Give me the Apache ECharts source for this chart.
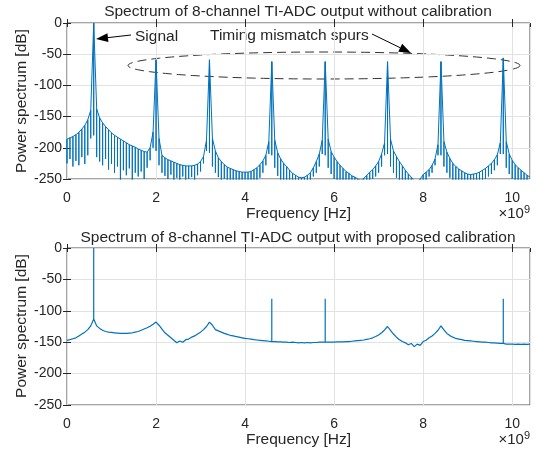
<!DOCTYPE html>
<html>
<head>
<meta charset="utf-8">
<script src="https://cdn.jsdelivr.net/npm/echarts@6/dist/echarts.min.js"></script>
<style>
  html, body { margin: 0; background: #fff; }
  #chart { width: 537px; height: 454px; }
</style>
</head>
<body>
<div id="chart"></div>
<script>
// frequency grid of the spectra, in GHz (axis is shown as x10^9 Hz)
const binStep = 1 / 15;
const freqMax = 10.4;
const xTicks = [0, 2, 4, 6, 8, 10];
const yTicks = [0, -50, -100, -150, -200, -250];

// without calibration: top of each leakage line, one per bin
const rawPeakDb = [
  -186, -184, -182, -179, -175, -170, -164, -155, -140, 0,
  -138, -152, -160, -166, -171, -176, -180, -183, -186, -189,
  -192, -195, -197, -199, -202, -204, -206, -207, -200, -175,
  -59, -185, -212, -216, -219, -221, -223, -225, -227, -228,
  -229, -229, -229, -228, -226, -222, -214, -188, -59, -185,
  -205, -216, -222, -227, -231, -233, -235, -237, -238, -239,
  -239, -239, -238, -235, -232, -227, -221, -212, -190, -62,
  -188, -208, -218, -225, -230, -236, -241, -244, -247, -248,
  -247, -244, -240, -232, -222, -210, -188, -62, -186, -206,
  -215, -222, -228, -233, -238, -241, -245, -247, -250, -252,
  -249, -244, -239, -235, -229, -222, -210, -192, -62, -186,
  -205, -214, -222, -229, -236, -242, -247, -253, -255, -250,
  -243, -239, -235, -228, -218, -195, -62, -190, -207, -217,
  -225, -230, -234, -237, -240, -242, -243, -242, -241, -239,
  -236, -233, -229, -225, -219, -211, -192, -56, -190, -210,
  -220, -227, -232, -236, -240, -244, -247
];
// without calibration: how far each leakage line drops
const rawDipDb = [
  -225, -218, -230, -221, -228, -215, -226, -212, -185, -180,
  -215, -222, -228, -218, -235, -226, -240, -230, -252, -236,
  -244, -233, -255, -240, -246, -238, -250, -232, -220, -200,
  -205, -228, -240, -245, -250, -243, -255, -248, -252, -246,
  -258, -250, -247, -252, -244, -238, -225, -205, -208, -230,
  -240, -247, -255, -250, -258, -252, -260, -255, -262, -258,
  -260, -255, -262, -252, -256, -248, -240, -228, -210, -212,
  -232, -245, -252, -258, -255, -262, -260, -265, -262, -266,
  -260, -258, -252, -246, -240, -230, -210, -212, -232, -242,
  -250, -255, -258, -262, -260, -265, -262, -268, -265, -262,
  -260, -258, -255, -250, -246, -240, -230, -212, -210, -230,
  -240, -248, -254, -258, -262, -265, -268, -266, -262, -258,
  -255, -252, -246, -240, -228, -212, -212, -230, -240, -248,
  -252, -256, -258, -260, -262, -262, -262, -260, -258, -256,
  -254, -250, -246, -242, -236, -228, -210, -210, -232, -242,
  -250, -255, -258, -260, -262, -262
];

// with proposed calibration: noise floor per bin
const calDb = [
  -147, -146, -144.5, -143, -140, -137, -134, -130, -124, -113,
  -124, -128, -131, -133, -134, -134.5, -135, -135.5, -136, -136,
  -136, -135.5, -135, -134, -133, -131, -129, -127, -124.5, -121.5,
  -118, -123, -129, -135, -139, -143, -147, -151, -148, -150,
  -146, -145, -142, -140, -137, -134, -130, -125, -118, -123,
  -130, -132, -134, -136, -137.5, -139, -140, -141, -142, -143,
  -144, -144.5, -145, -146, -146.5, -147, -147.5, -148, -148.5, -149,
  -149, -149.5, -149.5, -150, -150, -150.5, -150, -150.5, -151, -150.5,
  -151, -150.5, -151, -150.5, -150.5, -150, -150, -150, -150, -150,
  -150, -149.5, -149.5, -149.5, -149, -149, -148.5, -148, -147.5, -147,
  -146.5, -145.5, -144.5, -143, -141, -138.5, -135, -130.5, -125, -131,
  -137, -142, -146, -149, -151, -154, -152, -157, -153, -155,
  -149, -147, -143, -140, -136, -131, -124, -130.5, -136, -139.5,
  -142, -144, -145, -146, -147, -147.5, -148, -148.5, -149, -149.5,
  -150, -150, -150.5, -151, -151, -151.5, -152, -152, -153, -153,
  -153, -153.5, -153, -153.5, -153, -153.5, -153
];
// with calibration: signal and remaining spurs
const calSpikeFreq = [0.6, 4.6, 5.8, 9.8];
const calSpikeDb = [0, -81, -81, -81];

// each bin is drawn as a stem: down to its dip and back up
const rawData = [];
rawPeakDb.forEach((v, i) => {
  const f = i * binStep;
  rawData.push([f, v]);
  if (i < rawDipDb.length) rawData.push([f, rawDipDb[i]], [f, v]);
});

const calData = [];
calDb.forEach((v, i) => {
  const f = i * binStep;
  calData.push([f, v]);
  const k = calSpikeFreq.findIndex(t => Math.abs(t - f) < 1e-6);
  if (k >= 0) calData.push([f, calSpikeDb[k]], [f, v]);
});

const FONT = '"Liberation Sans", Arial, Helvetica, sans-serif';
const INK = '#262626';
const BLUE = '#0072BD';

const grids = [
  { left: 67, right: 7, top: 23, height: 156 },
  { left: 67, right: 7, top: 248, height: 157 }
];

function xAxes(gi) {
  const base = {
    type: 'value', gridIndex: gi, min: 0, max: freqMax, interval: xTicks[1] - xTicks[0],
    axisLine: { show: false },
    axisTick: { show: true, inside: true, length: 4, lineStyle: { color: INK } }
  };
  return [
    Object.assign({}, base, {
      position: 'bottom',
      name: 'Frequency [Hz]', nameLocation: 'middle', nameGap: 27,
      nameTextStyle: { fontFamily: FONT, fontSize: 15.5, color: INK },
      axisLabel: { fontFamily: FONT, fontSize: 14, color: INK, margin: 12, showMaxLabel: false,
        formatter: v => (xTicks.includes(v) ? String(v) : '') },
      splitLine: { show: true, lineStyle: { color: '#e2e2e2', width: 1 } }
    }),
    Object.assign({}, base, { position: 'top', axisLabel: { show: false }, splitLine: { show: false } })
  ];
}

function yAxes(gi) {
  const base = {
    type: 'value', gridIndex: gi, min: yTicks[yTicks.length - 1], max: yTicks[0], interval: 50,
    axisLine: { show: false },
    axisTick: { show: true, inside: true, length: 4, lineStyle: { color: INK } }
  };
  return [
    Object.assign({}, base, {
      position: 'left',
      axisLabel: { fontFamily: FONT, fontSize: 14, color: INK, margin: 5 },
      splitLine: { show: true, lineStyle: { color: '#e2e2e2', width: 1 } }
    }),
    Object.assign({}, base, { position: 'right', axisLabel: { show: false }, splitLine: { show: false } })
  ];
}

function arrow(x1, y1, x2, y2) {
  const a = Math.atan2(y2 - y1, x2 - x1), L = 12, W = 4.5;
  const bx = x2 - L * Math.cos(a), by = y2 - L * Math.sin(a);
  return [
    { type: 'line', shape: { x1: x1, y1: y1, x2: bx, y2: by }, style: { stroke: '#000', lineWidth: 1 } },
    { type: 'polygon', shape: { points: [[x2, y2],
        [bx - W * Math.sin(a), by + W * Math.cos(a)],
        [bx + W * Math.sin(a), by - W * Math.cos(a)]] }, style: { fill: '#000' } }
  ];
}

const ellipsePts = [];
for (let k = 0; k <= 120; k++) {
  const t = k / 120 * Math.PI * 2;
  ellipsePts.push([324 + 196 * Math.cos(t), 65.5 + 13.5 * Math.sin(t)]);
}

function label(x, y, text, size, align, rotation) {
  return { type: 'text', x: x, y: y, rotation: rotation || 0,
    style: { text: text, font: size + 'px ' + FONT, fill: INK, align: align || 'center', verticalAlign: 'middle' } };
}

function sciLabel(y) {
  return { type: 'text', x: 530, y: y,
    style: { text: '{m|\u00d710}{s|9}', align: 'right', verticalAlign: 'middle',
      rich: { m: { font: '15px ' + FONT, fill: INK }, s: { font: '11px ' + FONT, fill: INK, verticalAlign: 'top', padding: [0, 0, 8, 0] } } } };
}

const chart = echarts.init(document.getElementById('chart'));
chart.setOption({
  animation: false,
  backgroundColor: '#fff',
  grid: grids.map(g => Object.assign({ show: true, borderColor: '#4d4d4d', borderWidth: 1, backgroundColor: 'transparent' }, g)),
  xAxis: xAxes(0).concat(xAxes(1)),
  yAxis: yAxes(0).concat(yAxes(1)),
  series: [
    { type: 'line', xAxisIndex: 0, yAxisIndex: 0, data: rawData, showSymbol: false, clip: true,
      lineStyle: { color: BLUE, width: 1 } },
    { type: 'line', xAxisIndex: 2, yAxisIndex: 2, data: calData, showSymbol: false, clip: true,
      lineStyle: { color: BLUE, width: 1.2 } }
  ],
  graphic: { elements: [
    label(298, 12, 'Spectrum of 8-channel TI-ADC output without calibration', 15.5),
    label(298, 238, 'Spectrum of 8-channel TI-ADC output with proposed calibration', 15.5),
    label(22, 101, 'Power spectrum [dB]', 15.5, 'center', Math.PI / 2),
    label(22, 326, 'Power spectrum [dB]', 15.5, 'center', Math.PI / 2),
    sciLabel(214),
    sciLabel(440),
    label(135, 37, 'Signal', 15.5, 'left'),
    label(210, 36, 'Timing mismatch spurs', 15.5, 'left'),
    { type: 'polyline', shape: { points: ellipsePts },
      style: { stroke: '#333', lineWidth: 1, lineDash: [9, 5], fill: null } }
  ].concat(arrow(131, 35, 96, 39), arrow(372, 34, 411, 53)) }
});
</script>
</body>
</html>
